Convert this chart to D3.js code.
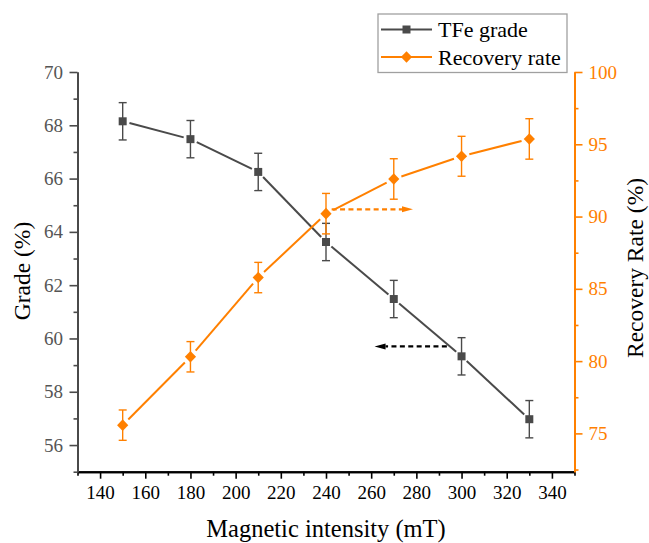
<!DOCTYPE html>
<html>
<head>
<meta charset="utf-8">
<script src="https://cdn.jsdelivr.net/npm/d3@7/dist/d3.min.js"></script>
<style>
  html, body { margin: 0; padding: 0; background: #fff; }
  svg { display: block; }
  svg text { font-family: "Liberation Serif", "Times New Roman", serif !important; }
</style>
</head>
<body>
<svg id="chart" width="649" height="543"></svg>
<script>
// Magnetic intensity (mT)
const intensity = [150, 180, 210, 240, 270, 300, 330];
// TFe grade (%) with error
const grade = [68.15, 67.48, 66.25, 63.62, 61.48, 59.33, 56.97];
const gradeErr = [0.7, 0.7, 0.7, 0.7, 0.7, 0.7, 0.7];
// Recovery rate (%) with error
const recovery = [75.57, 80.30, 85.78, 90.20, 92.60, 94.17, 95.37];
const recoveryErr = [1.05, 1.05, 1.05, 1.4, 1.4, 1.38, 1.4];

// Tick values
const xTicks = [140, 160, 180, 200, 220, 240, 260, 280, 300, 320, 340];
const gradeTicks = [56, 58, 60, 62, 64, 66, 68, 70];
const recoveryTicks = [75, 80, 85, 90, 95, 100];

// Dashed arrows that point each curve to its own axis (data coordinates)
const recoveryArrow = { x0: 242.5, x1: 278.5, y: 90.5 };
const gradeArrow = { x0: 293.5, x1: 261.5, y: 59.7 };

const GRAY = "#4a4a4a";
const ORANGE = "#ff8000";

const svg = d3.select("#chart");
const plotL = 77.5, plotR = 574.5, plotT = 72, plotB = 471.7;

const x = d3.scaleLinear().domain([130, 350]).range([plotL, plotR]);
const yG = d3.scaleLinear().domain([55, 70]).range([plotB, plotT]);
const yR = d3.scaleLinear().domain([72.35, 100]).range([plotB, plotT]);

// ---------- axes ----------
function styleAxis(g, color, labelColor, size) {
  g.attr("font-family", null);
  g.select(".domain").attr("stroke", color).attr("stroke-width", 2);
  g.selectAll(".tick line").attr("stroke", color).attr("stroke-width", 1.6);
  g.selectAll(".tick text").attr("fill", labelColor).style("font-size", size + "px");
}

// bottom axis
const xMinor = d3.range(130, 351, 10).filter(v => !xTicks.includes(v));
svg.append("g").attr("transform", `translate(0,${plotB})`)
  .call(d3.axisBottom(x).tickValues(xMinor).tickSize(4).tickFormat("").tickSizeOuter(0))
  .call(g => styleAxis(g, "#000", "#000", 19));
svg.append("g").attr("transform", `translate(0,${plotB})`)
  .call(d3.axisBottom(x).tickValues(xTicks).tickSize(7).tickPadding(7).tickSizeOuter(0))
  .call(g => styleAxis(g, "#000", "#000", 19));

// left axis (grade)
const gMinor = d3.range(55, 70, 2);
svg.append("g").attr("transform", `translate(${plotL},0)`)
  .call(d3.axisLeft(yG).tickValues(gMinor).tickSize(4).tickFormat("").tickSizeOuter(0))
  .call(g => styleAxis(g, GRAY, "#555", 19));
svg.append("g").attr("transform", `translate(${plotL},0)`)
  .call(d3.axisLeft(yG).tickValues(gradeTicks).tickSize(8).tickPadding(6.5).tickSizeOuter(0))
  .call(g => styleAxis(g, GRAY, "#555", 19));

// right axis (recovery)
const rMinor = [72.5, 77.5, 82.5, 87.5, 92.5, 97.5];
svg.append("g").attr("transform", `translate(${plotR},0)`)
  .call(d3.axisRight(yR).tickValues(rMinor).tickSize(4).tickFormat("").tickSizeOuter(0))
  .call(g => styleAxis(g, ORANGE, ORANGE, 19));
svg.append("g").attr("transform", `translate(${plotR},0)`)
  .call(d3.axisRight(yR).tickValues(recoveryTicks).tickSize(8).tickPadding(6).tickSizeOuter(0))
  .call(g => styleAxis(g, ORANGE, ORANGE, 19));

// ---------- axis titles ----------
svg.append("text").attr("x", 326).attr("y", 537)
  .attr("text-anchor", "middle").style("font-size", "24.5px").attr("fill", "#000")
  .text("Magnetic intensity (mT)");
svg.append("text").attr("transform", "translate(22,271) rotate(-90)")
  .attr("text-anchor", "middle").attr("dy", "0.35em").style("font-size", "23.5px").attr("fill", "#000")
  .text("Grade (%)");
svg.append("text").attr("transform", "translate(635,268) rotate(-90)")
  .attr("text-anchor", "middle").attr("dy", "0.35em").style("font-size", "23.5px").attr("fill", "#000")
  .text("Recovery Rate (%)");

// ---------- series ----------
function drawSeries(vals, errs, yScale, color, marker, gap) {
  const pts = vals.map((v, i) => [x(intensity[i]), yScale(v)]);
  const g = svg.append("g");
  // connecting segments, stopped short of each marker
  for (let i = 0; i < pts.length - 1; i++) {
    const [ax, ay] = pts[i], [bx, by] = pts[i + 1];
    const len = Math.hypot(bx - ax, by - ay);
    const ux = (bx - ax) / len, uy = (by - ay) / len;
    g.append("line")
      .attr("x1", ax + ux * gap).attr("y1", ay + uy * gap)
      .attr("x2", bx - ux * gap).attr("y2", by - uy * gap)
      .attr("stroke", color).attr("stroke-width", 2);
  }
  // error bars
  vals.forEach((v, i) => {
    const cx = x(intensity[i]);
    const y1 = yScale(v + errs[i]), y2 = yScale(v - errs[i]);
    g.append("line").attr("x1", cx).attr("x2", cx).attr("y1", y1).attr("y2", y2)
      .attr("stroke", color).attr("stroke-width", 1.4);
    [y1, y2].forEach(yy => g.append("line")
      .attr("x1", cx - 4).attr("x2", cx + 4).attr("y1", yy).attr("y2", yy)
      .attr("stroke", color).attr("stroke-width", 1.4));
  });
  // markers
  g.selectAll("path.m").data(pts).join("path")
    .attr("transform", d => `translate(${d[0]},${d[1]})`)
    .attr("d", marker).attr("fill", color);
}
const squareMark = "M-4,-4H4V4H-4Z";
const diamondMark = "M0,-5.8L5.6,0L0,5.8L-5.6,0Z";

drawSeries(grade, gradeErr, yG, GRAY, squareMark, 7);
drawSeries(recovery, recoveryErr, yR, ORANGE, diamondMark, 8);

// ---------- dashed arrows ----------
function arrow(x0, x1, yPix, color) {
  const dir = Math.sign(x1 - x0);
  const headLen = 11;
  svg.append("line")
    .attr("x1", x(x0)).attr("x2", x(x1) - dir * headLen)
    .attr("y1", yPix).attr("y2", yPix)
    .attr("stroke", color).attr("stroke-width", 2.2).attr("stroke-dasharray", "5,3.4");
  const tx = x(x1);
  svg.append("path")
    .attr("d", `M${tx},${yPix}L${tx - dir * headLen},${yPix - 3}L${tx - dir * headLen},${yPix + 3}Z`)
    .attr("fill", color);
}
arrow(recoveryArrow.x0, recoveryArrow.x1, yR(recoveryArrow.y), ORANGE);
arrow(gradeArrow.x0, gradeArrow.x1, yG(gradeArrow.y), "#000");

// ---------- legend ----------
const legend = svg.append("g");
legend.append("rect").attr("x", 378).attr("y", 14).attr("width", 189).attr("height", 58.5)
  .attr("fill", "#fff").attr("stroke", "#a0a0a0").attr("stroke-width", 1.3);
const legendItems = [
  { name: "TFe grade", color: GRAY, marker: squareMark, y: 29.5 },
  { name: "Recovery rate", color: ORANGE, marker: diamondMark, y: 57 }
];
legendItems.forEach(it => {
  legend.append("line").attr("x1", 381).attr("x2", 432).attr("y1", it.y).attr("y2", it.y)
    .attr("stroke", it.color).attr("stroke-width", 2);
  legend.append("path").attr("transform", `translate(406.5,${it.y})`).attr("d", it.marker).attr("fill", it.color);
  legend.append("text").attr("x", 438).attr("y", it.y).attr("dy", "0.35em")
    .style("font-size", "22px").attr("fill", "#000").text(it.name);
});
</script>
</body>
</html>
